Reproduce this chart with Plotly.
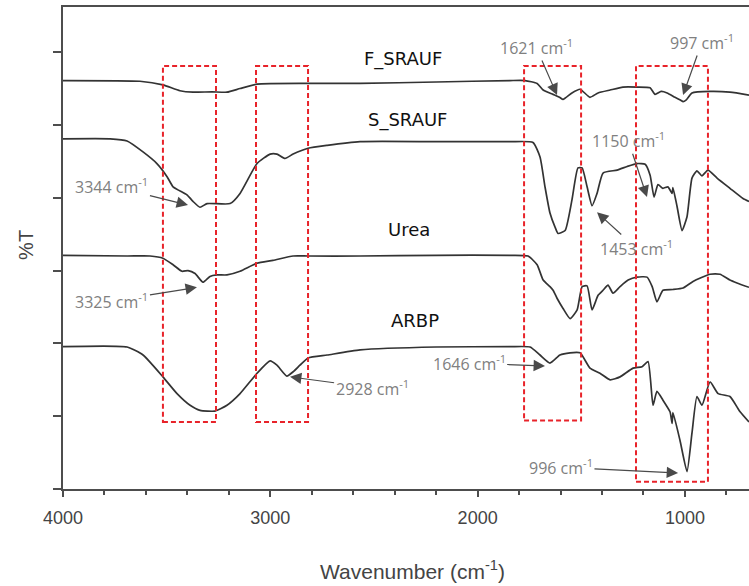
import plotly.graph_objects as go

# ---------------- data (wavenumber in cm-1, offset %T in arbitrary units) ----------------
f_wn = [4000, 3629, 3518, 3436, 3373, 3281, 3209, 3146, 3064, 2823, 2567, 2200, 1844, 1771, 1713,
        1684, 1636, 1605, 1588, 1545, 1506, 1458, 1419, 1361, 1299, 1230, 1168, 1144, 1115, 1086,
        1048, 1020, 1009, 995, 966, 879, 783, 691]
f_t = [5.61, 5.60, 5.55, 5.47, 5.45, 5.455, 5.45, 5.50, 5.56, 5.57, 5.57, 5.59, 5.61, 5.61, 5.57,
       5.48, 5.42, 5.38, 5.35, 5.44, 5.49, 5.38, 5.44, 5.48, 5.52, 5.52, 5.51, 5.42, 5.46, 5.44,
       5.38, 5.34, 5.32, 5.34, 5.44, 5.46, 5.45, 5.41]

s_wn = [4000, 3773, 3691, 3614, 3547, 3498, 3469, 3402, 3373, 3339, 3305, 3194, 3146, 3064, 3001,
        2968, 2929, 2890, 2818, 2726, 2567, 2200, 1844, 1733, 1699, 1675, 1651, 1627, 1612, 1578,
        1545, 1516, 1496, 1472, 1448, 1424, 1395, 1327, 1279, 1231, 1192, 1168, 1149, 1130, 1106,
        1082, 1062, 1058, 1038, 1014, 990, 966, 942, 918, 889, 845, 783, 720, 691]
s_t = [4.81, 4.81, 4.78, 4.63, 4.47, 4.29, 4.15, 4.04, 3.95, 3.87, 3.92, 3.92, 4.06, 4.47, 4.60,
       4.60, 4.54, 4.60, 4.68, 4.72, 4.77, 4.77, 4.77, 4.76, 4.56, 4.15, 3.79, 3.60, 3.51, 3.55,
       3.97, 4.41, 4.41, 4.15, 3.89, 4.06, 4.34, 4.38, 4.43, 4.47, 4.46, 4.31, 4.01, 4.18, 4.13,
       4.15, 4.06, 4.14, 3.88, 3.55, 3.74, 4.27, 4.37, 4.30, 4.38, 4.27, 4.13, 3.99, 3.95]

u_wn = [4000, 3691, 3580, 3518, 3469, 3426, 3397, 3363, 3325, 3291, 3257, 3209, 3146, 3064, 2987,
        2890, 2818, 2567, 2200, 1844, 1757, 1713, 1684, 1651, 1636, 1617, 1588, 1554, 1520, 1496,
        1472, 1448, 1419, 1395, 1371, 1347, 1313, 1274, 1231, 1183, 1158, 1135, 1106, 1058, 1009,
        961, 879, 831, 783, 749, 691]
u_t = [3.21, 3.20, 3.20, 3.17, 3.08, 2.99, 3.00, 2.96, 2.84, 2.92, 2.94, 2.94, 2.99, 3.10, 3.14,
       3.20, 3.20, 3.20, 3.21, 3.21, 3.20, 3.08, 2.87, 2.78, 2.73, 2.62, 2.48, 2.34, 2.46, 2.78,
       2.79, 2.46, 2.66, 2.73, 2.80, 2.69, 2.78, 2.87, 2.91, 2.91, 2.78, 2.57, 2.73, 2.74, 2.76,
       2.85, 2.95, 2.95, 2.87, 2.83, 2.77]

a_wn = [4000, 3691, 3614, 3518, 3450, 3387, 3339, 3267, 3209, 3146, 3064, 3001, 2968, 2920, 2890,
        2857, 2818, 2726, 2567, 2200, 1844, 1747, 1699, 1651, 1603, 1554, 1506, 1458, 1410, 1361,
        1313, 1250, 1207, 1178, 1154, 1135, 1106, 1072, 1062, 1058, 1024, 990, 966, 942, 918,
        879, 840, 783, 734, 691]
a_t = [1.955, 1.95, 1.84, 1.54, 1.31, 1.15, 1.08, 1.07, 1.15, 1.31, 1.59, 1.76, 1.70, 1.55, 1.61,
       1.70, 1.80, 1.84, 1.91, 1.95, 1.955, 1.95, 1.84, 1.73, 1.84, 1.87, 1.87, 1.66, 1.59, 1.50,
       1.54, 1.66, 1.68, 1.75, 1.15, 1.34, 1.22, 1.06, 0.90, 1.05, 0.67, 0.24, 0.77, 1.27, 1.15,
       1.47, 1.31, 1.27, 1.06, 0.92]

series_names = ["F_SRAUF", "S_SRAUF", "Urea", "ARBP"]
label_wn = [2360, 2336, 2331, 2302]
label_t = [5.91, 5.07, 3.56, 2.32]

# highlighted regions
box_x0 = [3518, 3069, 1776, 1236]
box_x1 = [3262, 2818, 1501, 889]
box_bottom = [0.92, 0.92, 0.94, 0.10]
box_top = [5.81, 5.81, 5.81, 5.81]

# peak call-outs: label, peak position, text position
peak_labels = ["1621", "997", "1150", "1453", "3344", "3325", "2928", "1646", "996"]
peak_wn = [1617, 1009, 1183, 1424, 3397, 3354, 2905, 1675, 1033]
peak_t = [5.41, 5.41, 4.01, 3.80, 3.90, 2.77, 1.54, 1.69, 0.22]
text_wn = [1718, 918, 1274, 1236, 3764, 3764, 2509, 2041, 1598]
text_t = [6.07, 6.14, 4.79, 3.31, 4.16, 2.58, 1.39, 1.73, 0.30]

x_ticks = [4000, 3000, 2000, 1000]
y_ticks = [0, 1, 2, 3, 4, 5, 6]

# ---------------- figure ----------------
fig = go.Figure()
line_col = "#333333"
for wn, t in [(f_wn, f_t), (s_wn, s_t), (u_wn, u_t), (a_wn, a_t)]:
    fig.add_trace(go.Scatter(x=wn, y=t, mode="lines",
                             line=dict(color=line_col, width=1.7, shape="spline", smoothing=0.5),
                             showlegend=False, hoverinfo="skip"))

red = "#e8232a"
for x0, x1, y0, y1 in zip(box_x0, box_x1, box_bottom, box_top):
    fig.add_shape(type="rect", xref="x", yref="y", x0=x0, x1=x1, y0=y0, y1=y1,
                  line=dict(color=red, width=2, dash="5px,3px"), fillcolor="rgba(0,0,0,0)")

for name, lx, ly in zip(series_names, label_wn, label_t):
    fig.add_annotation(x=lx, y=ly, xref="x", yref="y", text=name, showarrow=False,
                       font=dict(family="DejaVu Sans", size=18, color="#111111"))

for lab, px, py, tx, ty in zip(peak_labels, peak_wn, peak_t, text_wn, text_t):
    fig.add_annotation(x=px, y=py, xref="x", yref="y", ax=tx, ay=ty, axref="x", ayref="y",
                       text=lab + " cm<sup>-1</sup>", showarrow=True,
                       arrowhead=2, arrowsize=1.9, arrowwidth=1.2, arrowcolor="#4a4a4a",
                       font=dict(family="Open Sans", size=16, color="#808080"))

# axis titles
fig.add_annotation(x=0.509, y=-0.168, xref="paper", yref="paper", xanchor="center",
                   yanchor="middle", text="Wavenumber (cm<sup>-1</sup>)", showarrow=False,
                   font=dict(family="Liberation Sans", size=21, color="#444444"))
fig.add_annotation(x=-0.055, y=0.507, xref="paper", yref="paper", xanchor="center",
                   yanchor="middle", text="%T", textangle=-90, showarrow=False,
                   font=dict(family="Liberation Sans", size=20, color="#444444"))

axis_col = "#4d4d4d"
fig.update_layout(
    width=749, height=586,
    margin=dict(l=63, r=0, t=7, b=97),
    paper_bgcolor="white", plot_bgcolor="white",
    xaxis=dict(range=[4000, 691], tickvals=x_ticks, ticktext=[str(v) for v in x_ticks],
               ticks="outside", ticklen=6, tickwidth=2, tickcolor=axis_col,
               showline=True, linecolor=axis_col, linewidth=2, mirror=True,
               showgrid=False, zeroline=False, ticklabelstandoff=5,
               tickfont=dict(family="Liberation Sans", size=18, color="#444444"),
               minor=dict(tickmode="linear", tick0=0, dtick=200, ticks="outside",
                          ticklen=4, tickwidth=1.5, tickcolor=axis_col)),
    yaxis=dict(range=[0, 6.62], tickvals=y_ticks, showticklabels=False,
               ticks="outside", ticklen=8, tickwidth=1.5, tickcolor=axis_col,
               showline=True, linecolor=axis_col, linewidth=2,
               showgrid=False, zeroline=False),
)

fig.write_html("out.html", config={"displayModeBar": False},
               post_script="document.body.style.margin='0px';document.body.style.padding='0px';")
